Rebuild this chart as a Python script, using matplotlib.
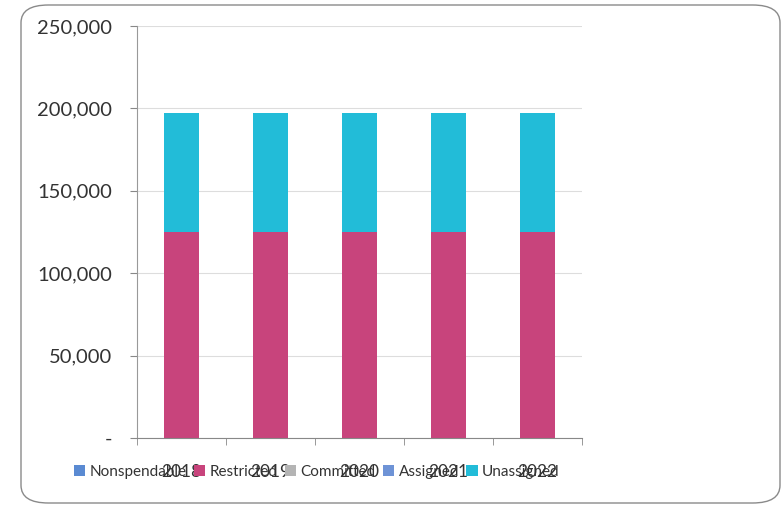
import matplotlib.pyplot as plt
import matplotlib.patches as mpatches
from matplotlib.ticker import FuncFormatter
import numpy as np

years = ["2018", "2019", "2020", "2021", "2022"]
series_names = ["Nonspendable", "Restricted", "Committed", "Assigned", "Unassigned"]
nonspendable = [0, 0, 0, 0, 0]
restricted = [125000, 125000, 125000, 125000, 125000]
committed = [0, 0, 0, 0, 0]
assigned = [0, 0, 0, 0, 0]
unassigned = [72000, 72000, 72000, 72000, 72000]

colors = ["#5a8ad2", "#c8447c", "#b4b4b4", "#6e93d6", "#22bcd8"]

plt.rcParams['font.family'] = ['Lato', 'DejaVu Sans']

fig = plt.figure(figsize=(7.84, 5.05), dpi=100, facecolor="white")

# rounded chart frame
frame = mpatches.FancyBboxPatch((21 / 784, 2 / 505), 759 / 784, 498 / 505,
                                boxstyle="round,pad=0,rounding_size=0.035",
                                transform=fig.transFigure, facecolor="white",
                                edgecolor="#8a8a8a", linewidth=1.0, zorder=-5)
fig.patches.append(frame)

ax = fig.add_axes([137 / 784, 1 - 438 / 505, 445 / 784, (438 - 26) / 505])
ax.set_facecolor("none")
ax.set_zorder(2)

x = np.arange(len(years))
width = 0.39
bottom = np.zeros(len(years))
for name, vals, c in zip(series_names,
                         [nonspendable, restricted, committed, assigned, unassigned],
                         colors):
    ax.bar(x, vals, width, bottom=bottom, color=c, label=name, zorder=2)
    bottom += np.array(vals)

ax.set_xlim(-0.5, len(years) - 0.5)
ax.set_ylim(0, 250000)
ax.set_yticks(np.arange(0, 250001, 50000))
ax.yaxis.set_major_formatter(FuncFormatter(lambda v, p: "-" if v == 0 else f"{int(v):,}"))
ax.grid(axis="y", color="#dddddd", linewidth=0.8, zorder=0)

ax.set_xticks(x)
ax.set_xticklabels(years)
ax.set_xticks(np.arange(-0.5, len(years)), minor=True)
ax.tick_params(axis="x", which="major", length=0, pad=19, labelsize=12.5, colors="#333333")
ax.tick_params(axis="x", which="minor", length=5, color="#888888")
ax.tick_params(axis="y", length=5, color="#888888", labelsize=14.5, colors="#333333", pad=13)

for s in ["top", "right"]:
    ax.spines[s].set_visible(False)
ax.spines["left"].set_color("#999999")
ax.spines["bottom"].set_color("#888888")

# legend sits on the same row as the year labels, like the original
fig.legend(loc="center left", bbox_to_anchor=(60 / 784, 1 - 472 / 505), ncol=5,
           frameon=False, fontsize=11, handlelength=0.75, handleheight=0.75,
           handletextpad=0.3, columnspacing=0.45, labelcolor="#333333")

plt.savefig("out.png", dpi=100)
